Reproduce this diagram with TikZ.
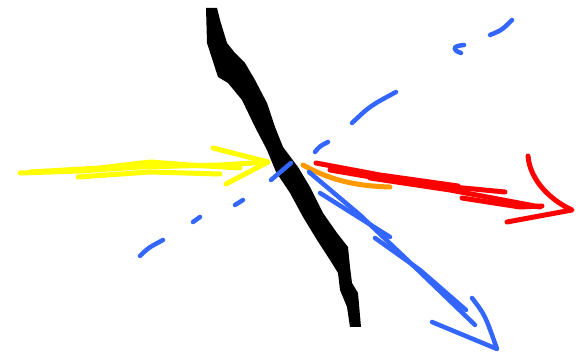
\documentclass[tikz,border=0pt]{standalone}
\usepackage{xcolor}
\usepackage{tikz}
\definecolor{rayyellow}{HTML}{FFFF00}
\definecolor{bendorange}{HTML}{FF9900}
\definecolor{hotred}{HTML}{FF0000}
\definecolor{normalblue}{HTML}{3366FF}

\begin{document}
\begin{tikzpicture}[x=1pt, y=-1pt,
    pen/.style={line width=5pt, line cap=round, line join=round},
    thin pen/.style={line width=4.5pt, line cap=round, line join=round}]
  \useasboundingbox (0,0) rectangle (587,355);
  % boundary
  \fill[black] (206,8) -- (207,43) -- (218,77) -- (228,83) -- (242,100) -- (255,127)
    -- (267,150) -- (276,172) -- (290,193) -- (303,217) -- (317,240)
    -- (330,260) -- (338,273) -- (340,290) -- (347,307) -- (350,327) -- (361,327)
    -- (358,293) -- (352,283) -- (350,267) -- (348,247) -- (337,233) -- (323,213)
    -- (310,187) -- (298,167) -- (283,147) -- (275,127) -- (267,103)
    -- (255,80) -- (245,63) -- (235,53) -- (227,43) -- (220,20) -- (217,8) -- cycle;
  % normal (dashed by hand)
  \draw[normalblue, thin pen] (140,256) .. controls (148,248) .. (163,240);
  \draw[normalblue, thin pen] (193,222) -- (200,217);
  \draw[normalblue, thin pen] (235,205) -- (243,200);
  \draw[normalblue, thin pen] (271,180) -- (291,163);
  \draw[normalblue, thin pen] (315,152) .. controls (320,146) .. (328,142);
  \draw[normalblue, thin pen] (352,123) .. controls (370,106) .. (396,92);
  \draw[normalblue, thin pen] (464,45) .. controls (452,46) and (452,50) .. (461,53);
  \draw[normalblue, thin pen] (490,35) .. controls (502,30) .. (512,20);
  % incoming ray
  \draw[rayyellow, pen] (20,173) -- (80,171) -- (140,167) -- (220,165) -- (268,162);
  \draw[rayyellow, pen] (30,172) -- (100,168) -- (150,162) -- (190,165) -- (240,168);
  \draw[rayyellow, pen] (78,177) -- (150,172) -- (220,174);
  \draw[rayyellow, pen] (213,148) -- (268,162) -- (226,184);
  % bent part
  \draw[bendorange, pen] (303,165) .. controls (330,180) and (355,186) .. (390,187);
  % outgoing red ray
  \draw[hotred, pen] (316,163) -- (380,175) -- (458,186);
  \draw[hotred, pen] (330,170) -- (400,182) -- (505,192);
  \draw[hotred, pen] (370,178) -- (450,190) -- (540,207);
  \draw[hotred, pen] (462,198) -- (520,207) -- (542,206);
  \draw[hotred, pen] (528,156) .. controls (530,180) and (550,200) .. (572,210)
    -- (507,222);
  % reflected blue ray
  \draw[normalblue, thin pen] (309,172) -- (360,215) -- (420,272) -- (475,325);
  \draw[normalblue, thin pen] (320,193) -- (355,215) -- (390,237);
  \draw[normalblue, thin pen] (375,238) -- (420,270) -- (466,310);
  \draw[normalblue, thin pen] (472,298) .. controls (485,315) .. (497,349)
    -- (432,322);
\end{tikzpicture}
\end{document}
